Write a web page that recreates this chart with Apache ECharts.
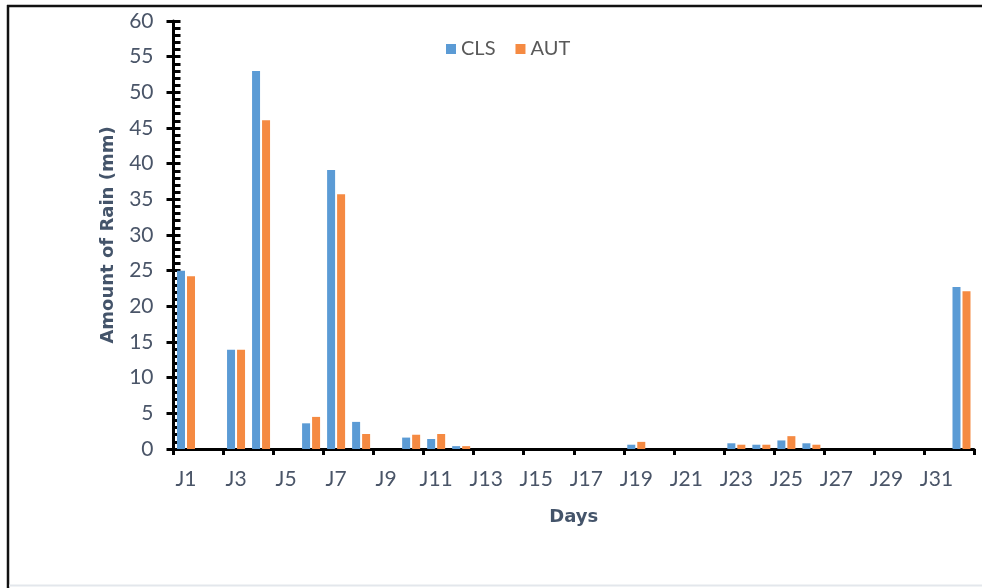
<!DOCTYPE html>
<html>
<head>
<meta charset="utf-8">
<script src="https://cdn.jsdelivr.net/npm/echarts@6/dist/echarts.min.js"></script>
<style>
html,body{margin:0;padding:0;background:#fff;}
#c{width:982px;height:588px;}
</style>
</head>
<body>
<div id="c"></div>
<script>
var days = ['J1','J2','J3','J4','J5','J6','J7','J8','J9','J10','J11','J12','J13','J14','J15','J16','J17','J18','J19','J20','J21','J22','J23','J24','J25','J26','J27','J28','J29','J30','J31','J32'];
var cls = [25, 0, 13.9, 53, 0, 3.6, 39.1, 3.8, 0, 1.6, 1.4, 0.4, 0, 0, 0, 0, 0, 0, 0.6, 0, 0, 0, 0.8, 0.6, 1.2, 0.8, 0, 0, 0, 0, 0, 22.7];
var aut = [24.2, 0, 13.9, 46.1, 0, 4.5, 35.7, 2.1, 0, 2.0, 2.1, 0.4, 0, 0, 0, 0, 0, 0, 1.0, 0, 0, 0, 0.6, 0.6, 1.8, 0.6, 0, 0, 0, 0, 0, 22.1];
var yMin = 0, yMax = 60, yStep = 5;

var chart = echarts.init(document.getElementById('c'), null, {renderer:'canvas'});
var labelColor = '#4a5568';
chart.setOption({
  animation: false,
  backgroundColor: '#fff',
  graphic: [
    {type:'line', shape:{x1:7, y1:6, x2:982, y2:6}, style:{stroke:'#111', lineWidth:2.5}},
    {type:'line', shape:{x1:8, y1:5, x2:8, y2:588}, style:{stroke:'#111', lineWidth:2.5}},
    {type:'line', shape:{x1:9, y1:585.5, x2:982, y2:585.5}, style:{stroke:'#e3e7ec', lineWidth:2}}
  ],
  legend: {
    data: ['CLS','AUT'],
    left: 441, top: 34,
    itemWidth: 10, itemHeight: 10, itemGap: 20,
    icon: 'rect',
    textStyle: {fontFamily:'Lato', fontSize:20, color:'#595959'}
  },
  grid: {left: 173.5, right: 8, top: 21, bottom: 139, containLabel: false},
  xAxis: {
    type: 'category',
    data: days,
    axisLine: {lineStyle:{color:'#000', width:3}},
    axisTick: {show:true, length:6, lineStyle:{color:'#000', width:3}},
    axisLabel: {interval:1, margin:20, fontFamily:'Lato', fontSize:21, color:labelColor},
    name: 'Days', nameLocation: 'middle', nameGap: 59,
    nameTextStyle: {fontFamily:'DejaVu Sans', fontWeight:'bold', fontSize:18, color:'#44546a'}
  },
  yAxis: [{
    type: 'value', min: yMin, max: yMax, interval: yStep,
    axisLine: {show:true, lineStyle:{color:'#000', width:3}},
    axisTick: {show:true, length:7, lineStyle:{color:'#000', width:3}},
    splitLine: {show:false},
    axisLabel: {margin:20, fontFamily:'Lato', fontSize:21, color:labelColor},
    name: 'Amount of Rain (mm)', nameLocation: 'middle', nameGap: 56, nameRotate: 90,
    nameTextStyle: {fontFamily:'DejaVu Sans', fontWeight:'bold', fontSize:18, color:'#44546a'}
  },{
    type: 'value', min: yMin, max: yMax, interval: 1, position: 'left',
    axisLine: {show:false},
    axisTick: {show:true, inside:true, length:7, lineStyle:{color:'#000', width:3}},
    axisLabel: {show:false},
    splitLine: {show:false}
  }],
  series: [{
    name: 'CLS', type: 'bar', data: cls, barWidth: 8, barGap: '25%',
    itemStyle: {color:'#5b9bd5', borderWidth:0}
  },{
    name: 'AUT', type: 'bar', data: aut, barWidth: 8,
    itemStyle: {color:'#f58a42', borderWidth:0}
  }]
});
</script>
</body>
</html>
